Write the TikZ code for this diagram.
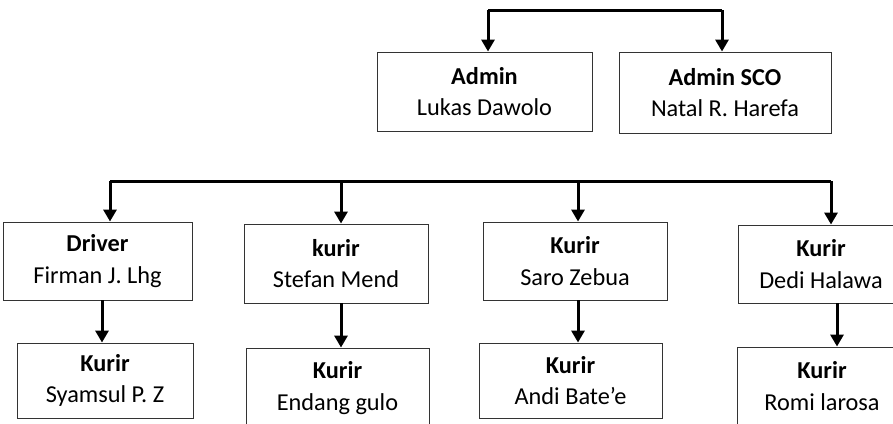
\documentclass[tikz,border=0pt]{standalone}
\usepackage{fontspec}
\setmainfont{Carlito}
\usetikzlibrary{arrows.meta}
\begin{document}
\begin{tikzpicture}[x=1pt,y=-1pt,
  orgbox/.style={draw=black!80, line width=0.9pt, fill=white, align=center, inner sep=0pt,
    font=\fontsize{24.3}{31.5}\selectfont},
  conn/.style={line width=3pt, black, line join=miter},
  arr/.style={conn, -{Triangle[width=13pt,length=12pt]}}]
\useasboundingbox (0,0) rectangle (893,423);
\clip (0,0) rectangle (893,423);
% top row
\node[orgbox, minimum width=215pt, minimum height=79pt] (admin) at (484.5,91.5) {\textbf{Admin}\\Lukas Dawolo};
\node[orgbox, minimum width=212pt, minimum height=81pt] (sco) at (725,92.5) {\textbf{Admin SCO}\\Natal R. Harefa};
% middle row
\node[orgbox, minimum width=189pt, minimum height=78pt] (driver) at (97.5,261) {\textbf{Driver}\\Firman J. Lhg};
\node[orgbox, minimum width=184pt, minimum height=79pt] (stefan) at (336,263.5) {\textbf{kurir}\\Stefan Mend};
\node[orgbox, minimum width=184pt, minimum height=78pt] (saro) at (575,261) {\textbf{Kurir}\\Saro Zebua};
\node[orgbox, minimum width=166pt, minimum height=78pt] (dedi) at (821,264) {\textbf{Kurir}\\Dedi Halawa};
% bottom row
\node[orgbox, minimum width=176pt, minimum height=75pt] (syamsul) at (105,380.5) {\textbf{Kurir}\\Syamsul P. Z};
\node[orgbox, minimum width=183pt, minimum height=80pt] (endang) at (337.5,388) {\textbf{Kurir}\\Endang gulo};
\node[orgbox, minimum width=183pt, minimum height=75pt] (andi) at (570.5,380.5) {\textbf{Kurir}\\Andi Bate’e};
\node[orgbox, minimum width=170pt, minimum height=78pt] (romi) at (822,386) {\textbf{Kurir}\\Romi larosa};
% top bus
\coordinate (t1) at (488,10);
\coordinate (t2) at (722,10);
\draw[conn] (t1) -- (t2);
\draw[arr] (t1) -- (t1 |- admin.north);
\draw[arr] (t2) -- (t2 |- sco.north);
% middle bus
\coordinate (b1) at (110,181);
\coordinate (b2) at (341,181);
\coordinate (b3) at (578,181);
\coordinate (b4) at (831,181);
\draw[conn] (b1) -- (b4);
\draw[arr] (b1) -- (b1 |- driver.north);
\draw[arr] (b2) -- (b2 |- stefan.north);
\draw[arr] (b3) -- (b3 |- saro.north);
\draw[arr] (b4) -- (b4 |- dedi.north);
% children
\coordinate (c1) at (102,0);
\coordinate (c2) at (341,0);
\coordinate (c3) at (578,0);
\coordinate (c4) at (837,0);
\draw[arr] (c1 |- driver.south) -- (c1 |- syamsul.north);
\draw[arr] (c2 |- stefan.south) -- (c2 |- endang.north);
\draw[arr] (c3 |- saro.south) -- (c3 |- andi.north);
\draw[arr] (c4 |- dedi.south) -- (c4 |- romi.north);
\end{tikzpicture}
\end{document}
